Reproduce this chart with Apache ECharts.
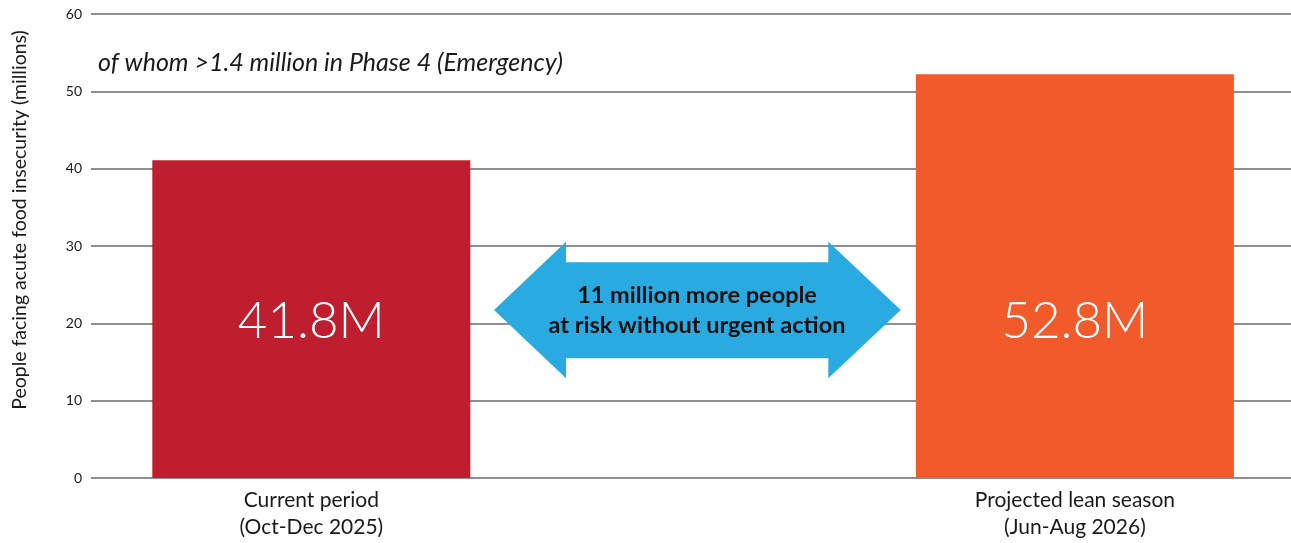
<!DOCTYPE html>
<html>
<head>
<meta charset="utf-8">
<script src="https://cdn.jsdelivr.net/npm/echarts@6/dist/echarts.min.js"></script>
<style>html,body{margin:0;padding:0;background:#fff}#c{width:1291px;height:543px}</style>
</head>
<body>
<div id="c"></div>
<script>
// ---- data ----
var categories = ['Current period\n(Oct-Dec 2025)', '', 'Projected lean season\n(Jun-Aug 2026)'];
var barValues = [41.1, null, 52.2];
var barLabels = ['41.8M', '', '52.8M'];
var barColors = ['#BE1E2D', '#ffffff', '#F15A2B'];
var yTicks = [0, 10, 20, 30, 40, 50, 60];
var yTitle = 'People facing acute food insecurity (millions)';
var noteText = 'of whom >1.4 million in Phase 4 (Emergency)';
var arrowText = '11 million more people\nat risk without urgent action';

var FONT = 'Lato, "Open Sans", sans-serif';
var chart = echarts.init(document.getElementById('c'), null, {renderer: 'canvas'});

var option = {
  animation: false,
  backgroundColor: '#fff',
  grid: [
    {left: 91, right: 0, top: 14, bottom: 65, containLabel: false},
    {left: 120.4, right: 25.2, top: 14, bottom: 65, containLabel: false}
  ],
  xAxis: [
    {gridIndex: 0, type: 'category', data: categories, show: false},
    {gridIndex: 1, type: 'category', data: categories,
      axisLine: {show: false}, axisTick: {show: false},
      axisLabel: {fontFamily: FONT, fontSize: 21, color: '#1a1a1a', lineHeight: 27, margin: 9, interval: 0}}
  ],
  yAxis: [
    {gridIndex: 0, type: 'value', min: yTicks[0], max: yTicks[yTicks.length - 1], interval: 10,
      axisLine: {show: false}, axisTick: {show: false},
      axisLabel: {fontFamily: FONT, fontSize: 14, color: '#1a1a1a', margin: 9},
      splitLine: {lineStyle: {color: '#8f8f8f', width: 2}},
      name: yTitle, nameLocation: 'middle', nameRotate: 90, nameGap: 61,
      nameTextStyle: {fontFamily: FONT, fontSize: 19.5, color: '#1a1a1a', padding: [0, 0, 0, 52]}},
    {gridIndex: 1, type: 'value', min: yTicks[0], max: yTicks[yTicks.length - 1], interval: 10, show: false,
      splitLine: {show: false}}
  ],
  series: [{
    type: 'bar', xAxisIndex: 1, yAxisIndex: 1,
    barWidth: 318,
    data: barValues.map(function (v, i) {
      return {value: v, itemStyle: {color: barColors[i]}};
    }),
    label: {
      show: true, position: 'insideBottom', distance: 128,
      formatter: function (p) { return barLabels[p.dataIndex]; },
      fontFamily: FONT, fontWeight: 300, fontSize: 51, lineHeight: 56, color: '#ffffff'
    }
  }],
  graphic: [
    {type: 'polygon', z: 10,
      shape: {points: [[494, 310], [566, 241.7], [566, 262.3], [828.3, 262.3], [828.3, 241.7], [900.7, 310],
                       [828.3, 378.3], [828.3, 358.3], [566, 358.3], [566, 378.3]]},
      style: {fill: '#29ABE2'}},
    {type: 'text', z: 11, x: 697, y: 310,
      style: {text: arrowText, fontFamily: FONT, fontWeight: 'bold', fontSize: 23.5, lineHeight: 30,
        fill: '#111', align: 'center', verticalAlign: 'middle'}},
    {type: 'text', z: 11, x: 98, y: 63,
      style: {text: noteText, fontFamily: FONT, fontStyle: 'italic', fontSize: 25,
        fill: '#1a1a1a', align: 'left', verticalAlign: 'middle'}}
  ]
};
chart.setOption(option);
</script>
</body>
</html>
